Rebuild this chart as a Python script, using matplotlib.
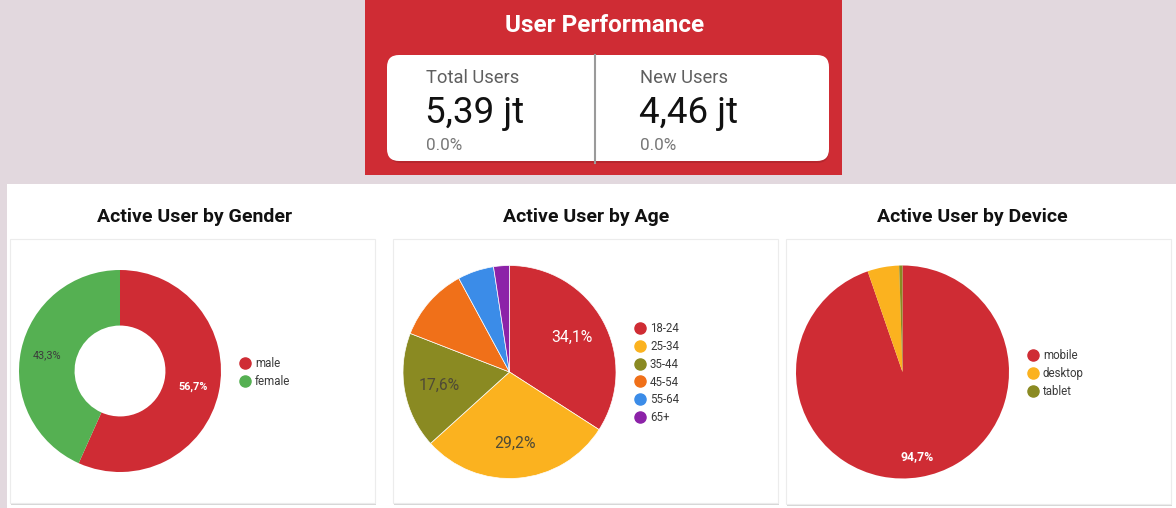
import matplotlib
matplotlib.use('Agg')
import matplotlib.pyplot as plt
from matplotlib.patches import Rectangle, FancyBboxPatch
from matplotlib.lines import Line2D

plt.rcParams['font.family'] = ['Roboto', 'DejaVu Sans']

# KPI values
kpi_names = ['Total Users', 'New Users']
kpi_values = ['5,39 jt', '4,46 jt']
kpi_changes = ['0.0%', '0.0%']

# pie data
gender_labels = ['male', 'female']
gender_values = [56.7, 43.3]
gender_colors = ['#cf2c34', '#55b052']

age_labels = ['18-24', '25-34', '35-44', '45-54', '55-64', '65+']
age_values = [34.1, 29.2, 17.6, 11.2, 5.5, 2.4]
age_colors = ['#cf2c34', '#fbb21f', '#8a8a22', '#f07019', '#3b8ce8', '#8c22a8']

device_labels = ['mobile', 'desktop', 'tablet']
device_values = [94.7, 4.8, 0.5]
device_colors = ['#cf2c34', '#fbb21f', '#8a8a22']

W, H = 1176, 508
fig = plt.figure(figsize=(W / 100, H / 100), dpi=100)
fig.patch.set_facecolor('#e2d8de')

# background axes in pixel coords
bg = fig.add_axes([0, 0, 1, 1])
bg.set_xlim(0, W)
bg.set_ylim(H, 0)
bg.axis('off')

# top red box
bg.add_patch(Rectangle((365, 0), 477, 175, facecolor='#cf2c34', edgecolor='none'))
bg.add_patch(FancyBboxPatch((389, 59), 440, 104, boxstyle='round,pad=0,rounding_size=12',
                            facecolor='#9e2128', edgecolor='none', alpha=0.5))
bg.add_patch(FancyBboxPatch((387, 55), 442, 106, boxstyle='round,pad=0,rounding_size=12',
                            facecolor='white', edgecolor='none'))
bg.plot([595, 595], [55, 163], color='#9a9a9a', lw=1.5)
bg.text(605, 25, 'User Performance', color='white', fontsize=17.5, fontweight='bold',
        ha='center', va='center')
for i, x0 in enumerate([426, 640]):
    bg.text(x0, 78, kpi_names[i], color='#5f5f5f', fontsize=13.2, ha='left', va='center')
    bg.text(x0 - 1, 113, kpi_values[i], color='#111111', fontsize=26.5, ha='left', va='center')
    bg.text(x0, 146, kpi_changes[i], color='#777777', fontsize=12.3, ha='left', va='center')

# bottom white panel
bg.add_patch(Rectangle((7, 184), W - 7, H - 184, facecolor='white', edgecolor='none'))

titles = ['Active User by Gender', 'Active User by Age', 'Active User by Device']
title_x = [195, 586, 972]
for t, tx in zip(titles, title_x):
    bg.text(tx, 217, t, color='#111111', fontsize=14, fontweight='bold', ha='center', va='center')

cards = [(10, 239, 365, 264), (393, 239, 385, 264), (786, 239, 385, 265)]
for (cx, cy, cw, ch) in cards:
    bg.add_patch(Rectangle((cx + 1, cy + 2), cw, ch, facecolor='#d6d6d6', edgecolor='none'))
    bg.add_patch(Rectangle((cx, cy), cw, ch, facecolor='white', edgecolor='#ececec', lw=0.8))


def pct_fmt(limit):
    def f(p):
        return (f'{p:.1f}'.replace('.', ',') + '%') if p > limit else ''
    return f


def pie_axes(cx, cy, r):
    ax = fig.add_axes([(cx - r) / W, 1 - (cy + r) / H, 2 * r / W, 2 * r / H])
    ax.set_xlim(-1, 1)
    ax.set_ylim(-1, 1)
    ax.axis('off')
    return ax


def add_legend(labels, colors, x, y):
    handles = [Line2D([], [], marker='o', ls='none', markersize=8, markerfacecolor=c,
                      markeredgecolor=c) for c in colors]
    bg.legend(handles, labels, loc='upper left', bbox_to_anchor=(x, y),
              bbox_transform=bg.transData, frameon=False, fontsize=8.3,
              handlelength=0.8, handletextpad=0.5, labelspacing=0.42,
              borderpad=0, borderaxespad=0, labelcolor='#3a3a3a')


# gender donut
ax1 = pie_axes(120, 371, 101)
w1, _, at1 = ax1.pie(gender_values, colors=gender_colors, startangle=90, counterclock=False,
                     radius=1, autopct=pct_fmt(0), pctdistance=0.74,
                     wedgeprops=dict(width=0.55, linewidth=0),
                     textprops=dict(fontsize=7.8))
at1[0].set_color('white')
at1[0].set_fontweight('bold')
at1[1].set_color('#3c3c3c')
ax1.set_xlim(-1, 1)
ax1.set_ylim(-1, 1)
add_legend(gender_labels, gender_colors, 240, 357)
bg.add_artist(bg.get_legend())

# age pie
ax2 = pie_axes(509.5, 372, 106.5)
w2, _, at2 = ax2.pie(age_values, colors=age_colors, startangle=90, counterclock=False,
                     radius=1, autopct=pct_fmt(15), pctdistance=0.67,
                     wedgeprops=dict(linewidth=0.5, edgecolor='white'),
                     textprops=dict(fontsize=11.3, color='#4f4a36'))
at2[0].set_color('white')
ax2.set_xlim(-1, 1)
ax2.set_ylim(-1, 1)
add_legend(age_labels, age_colors, 635, 322)
bg.add_artist(bg.get_legend())

# device pie
ax3 = pie_axes(902.5, 372, 106.5)
w3, _, at3 = ax3.pie(device_values, colors=device_colors, startangle=90, counterclock=False,
                     radius=1, autopct=pct_fmt(15), pctdistance=0.81,
                     wedgeprops=dict(linewidth=0),
                     textprops=dict(fontsize=8.8, color='white', fontweight='bold'))
ax3.set_xlim(-1, 1)
ax3.set_ylim(-1, 1)
add_legend(device_labels, device_colors, 1028, 349)

fig.savefig('out.png', dpi=100, facecolor=fig.get_facecolor())
